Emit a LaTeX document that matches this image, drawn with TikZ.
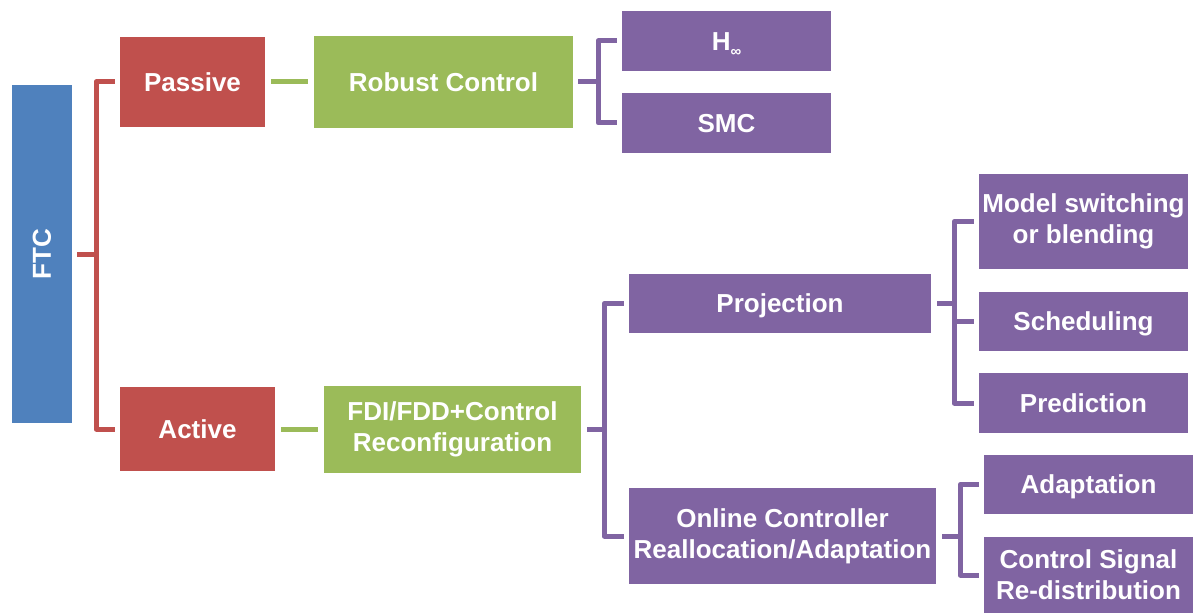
\documentclass[tikz,border=0pt]{standalone}
\usepackage{fontspec}
\setmainfont{Liberation Sans}
\definecolor{cblue}{HTML}{4F81BD}
\definecolor{cred}{HTML}{C0504D}
\definecolor{cgreen}{HTML}{9BBB59}
\definecolor{cpurple}{HTML}{8064A2}
\tikzset{
  box/.style={inner sep=0pt, align=center, text=white,
    font=\fontsize{26}{31}\selectfont\bfseries},
  oneline/.style={text height=18.6pt, text depth=0pt},
  bluebox/.style={box, fill=cblue},
  redbox/.style={box, fill=cred},
  greenbox/.style={box, fill=cgreen},
  purplebox/.style={box, fill=cpurple},
  link/.style={line width=5pt, line join=round},
  redlink/.style={link, draw=cred},
  greenlink/.style={link, draw=cgreen},
  purplelink/.style={link, draw=cpurple},
}
\begin{document}
\begin{tikzpicture}[x=1pt,y=-1pt]
\useasboundingbox (0,0) rectangle (1197,615);
% nodes
\node[bluebox, minimum width=60pt, minimum height=338pt] (ftc) at (42,254) {\rotatebox{90}{FTC}};
\node[redbox, oneline, minimum width=145pt, minimum height=90pt] (passive) at (192.5,82) {Passive};
\node[redbox, oneline, minimum width=155pt, minimum height=84pt] (active) at (197.5,429) {Active};
\node[greenbox, oneline, minimum width=259pt, minimum height=92pt] (robust) at (443.5,82) {Robust Control};
\node[greenbox, minimum width=257pt, minimum height=87pt] (fdi) at (452.5,429) {FDI/FDD+Control\\Reconfiguration};
\node[purplebox, oneline, minimum width=209pt, minimum height=60pt] (hinf) at (726.5,41) {H{\fontsize{15}{15}\selectfont\raisebox{-6pt}{∞}}};
\node[purplebox, oneline, minimum width=209pt, minimum height=60pt] (smc) at (726.5,123) {SMC};
\node[purplebox, oneline, minimum width=302pt, minimum height=59pt] (proj) at (780,303.5) {Projection};
\node[purplebox, minimum width=307pt, minimum height=96pt] (online) at (782.5,536) {Online Controller\\Reallocation/Adaptation};
\node[purplebox, minimum width=209pt, minimum height=95pt] (model) at (1083.5,221.5) {Model switching\\or blending};
\node[purplebox, oneline, minimum width=209pt, minimum height=59pt] (sched) at (1083.5,321.5) {Scheduling};
\node[purplebox, oneline, minimum width=209pt, minimum height=60pt] (pred) at (1083.5,403) {Prediction};
\node[purplebox, oneline, minimum width=209pt, minimum height=59pt] (adapt) at (1088.5,484.5) {Adaptation};
\node[purplebox, minimum width=209pt, minimum height=76pt] (csig) at (1088.5,575) {Control Signal\\Re-distribution};
% connectors
\draw[redlink, shorten <=5pt, shorten >=5pt] (ftc.east) -- ++(24,0) |- (passive.west);
\draw[redlink, shorten <=5pt, shorten >=5pt] (ftc.east) -- ++(24,0) |- (active.west);
\draw[greenlink, shorten <=6pt, shorten >=6pt] (passive.east) -- (robust.west);
\draw[greenlink, shorten <=6pt, shorten >=6pt] (active.east) -- (fdi.west);
\draw[purplelink, shorten <=5pt, shorten >=5pt] (robust.east) -- ++(25,0) |- (hinf.west);
\draw[purplelink, shorten <=5pt, shorten >=5pt] (robust.east) -- ++(25,0) |- (smc.west);
\draw[purplelink, shorten <=6pt, shorten >=5pt] (fdi.east) -- ++(23,0) |- (proj.west);
\draw[purplelink, shorten <=6pt, shorten >=5pt] (fdi.east) -- ++(23,0) |- (online.west);
\draw[purplelink, shorten <=6pt, shorten >=5pt] (proj.east) -- ++(23,0) |- (model.west);
\draw[purplelink, shorten <=6pt, shorten >=5pt] (proj.east) -- ++(23,0) |- (sched.west);
\draw[purplelink, shorten <=6pt, shorten >=5pt] (proj.east) -- ++(23,0) |- (pred.west);
\draw[purplelink, shorten <=6pt, shorten >=5pt] (online.east) -- ++(24,0) |- (adapt.west);
\draw[purplelink, shorten <=6pt, shorten >=5pt] (online.east) -- ++(24,0) |- (csig.west);
\end{tikzpicture}
\end{document}
